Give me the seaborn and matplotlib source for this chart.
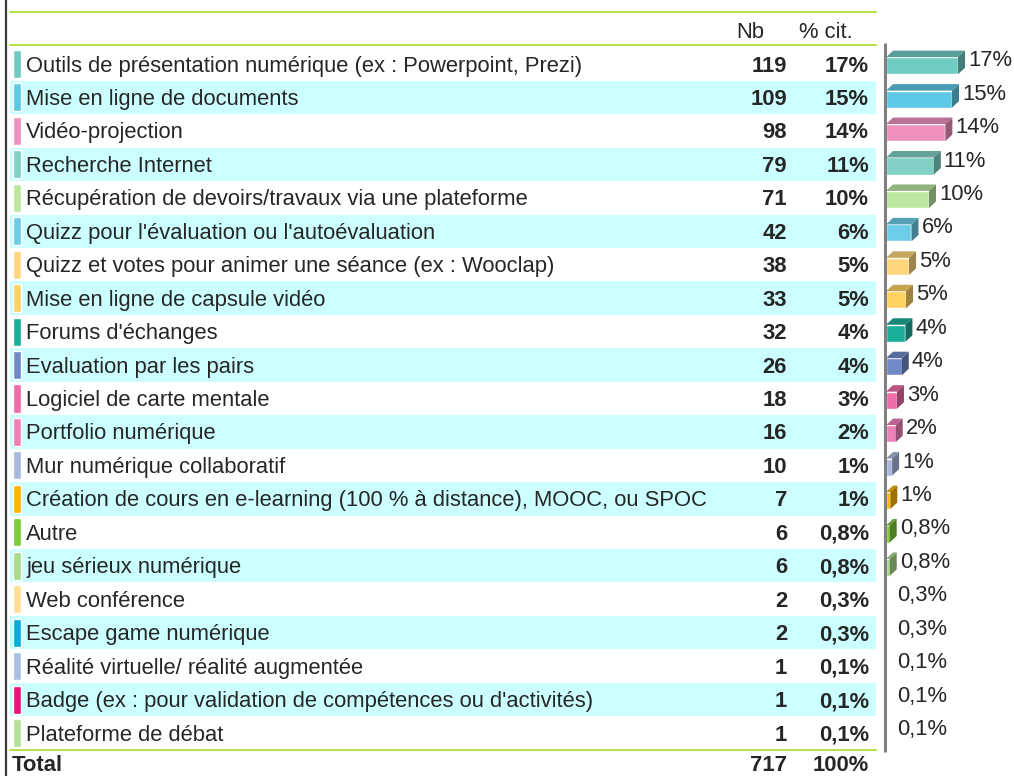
import matplotlib
matplotlib.use('Agg')
import matplotlib.pyplot as plt
import matplotlib.colors as mcolors
from matplotlib.patches import Polygon
import seaborn as sns

labels = [
    "Outils de présentation numérique (ex : Powerpoint, Prezi)",
    "Mise en ligne de documents",
    "Vidéo-projection",
    "Recherche Internet",
    "Récupération de devoirs/travaux via une plateforme",
    "Quizz pour l'évaluation ou l'autoévaluation",
    "Quizz et votes pour animer une séance (ex : Wooclap)",
    "Mise en ligne de capsule vidéo",
    "Forums d'échanges",
    "Evaluation par les pairs",
    "Logiciel de carte mentale",
    "Portfolio numérique",
    "Mur numérique collaboratif",
    "Création de cours en e-learning (100 % à distance), MOOC, ou SPOC",
    "Autre",
    "jeu sérieux numérique",
    "Web conférence",
    "Escape game numérique",
    "Réalité virtuelle/ réalité augmentée",
    "Badge (ex : pour validation de compétences ou d'activités)",
    "Plateforme de débat",
]
counts = [119, 109, 98, 79, 71, 42, 38, 33, 32, 26, 18, 16, 10, 7, 6, 6, 2, 2, 1, 1, 1]
pct_labels = ["17%", "15%", "14%", "11%", "10%", "6%", "5%", "5%", "4%", "4%", "3%",
              "2%", "1%", "1%", "0,8%", "0,8%", "0,3%", "0,3%", "0,1%", "0,1%", "0,1%"]
colors = ["#70CCC1", "#5CC9E6", "#F090BF", "#80D0C6", "#BDE6A1", "#6DCDE8", "#FFD67E",
          "#FFD163", "#1BAE98", "#7089C8", "#EE6CA8", "#F081B8", "#A9B9DD", "#FFB500",
          "#7DCB3B", "#A9DC89", "#FFDD92", "#00AEDC", "#ABBFE0", "#E8157C", "#B5E19B"]
total_count = 717
total_pct = "100%"

sns.set_style("white")
plt.rcParams['font.family'] = ['Liberation Sans', 'DejaVu Sans']

W, H = 1014, 776
row0, row_h = 64, 33.45          # centre de la 1re ligne et hauteur de ligne (px)
fs = 15.8
ty = 0.06                         # petit décalage vertical du texte (en lignes)
n = len(labels)
ylim = ((H - row0) / row_h, -row0 / row_h)

fig = plt.figure(figsize=(W / 100, H / 100), dpi=100)

# --- tableau ---
tax = fig.add_axes([0, 0, 1, 1])
tax.set_xlim(0, W)
tax.set_ylim(*ylim)
tax.axis('off')

for i in range(1, n, 2):
    tax.axhspan(i - 0.5, i + 0.5, xmin=10 / W, xmax=876 / W, color='#CCFFFF', lw=0, zorder=0)
tax.barh(range(n), 8, left=13, height=0.84, color=colors, zorder=1)

for i, (lab, c, p) in enumerate(zip(labels, counts, pct_labels)):
    tax.text(26, i + ty, lab, fontsize=fs, va='center')
    tax.text(787, i + ty, str(c), fontsize=fs, weight='bold', ha='right', va='center')
    tax.text(869, i + ty, p, fontsize=fs, weight='bold', ha='right', va='center')

tax.text(750, -1 + ty, "Nb", fontsize=fs, ha='center', va='center')
tax.text(826, -1 + ty, "% cit.", fontsize=fs, ha='center', va='center')
# ligne Total, collée au bas de l'image
yt = n - 0.04
tax.text(12, yt, "Total", fontsize=fs, weight='bold', va='center')
tax.text(787, yt, str(total_count), fontsize=fs, weight='bold', ha='right', va='center')
tax.text(869, yt, total_pct, fontsize=fs, weight='bold', ha='right', va='center')

for y in (-1.55, -0.57, n - 0.5):
    tax.plot([10, 876], [y, y], color='#B5E04A', lw=1.5)
tax.axvline(6, color='#3a3a3a', lw=1.6)

# --- barres 3D ---
px_per = 72 / 119
shift = 0.05
bax = fig.add_axes([880 / W, 0, 134 / W, 1])
sns.barplot(x=counts, y=labels, hue=labels, palette=colors, saturation=1,
            legend=False, orient='h', width=0.51, ax=bax)
bax.set_xlim(-10, 134 / px_per - 10)
bax.set_ylim(ylim[0] - shift, ylim[1] - shift)
bax.axis('off')
bax.patch.set_alpha(0)

dx = 7 / px_per
dy = 6.5 / row_h
for bar in list(bax.patches):
    x0, y0 = bar.get_x(), bar.get_y()
    w, h = bar.get_width(), abs(bar.get_height())
    if w * px_per < 3:
        continue
    top = min(y0, y0 + bar.get_height())
    base = mcolors.to_rgb(bar.get_facecolor())
    top_c = tuple(v * 0.78 for v in base)
    side_c = tuple(v * 0.62 for v in base)
    bax.add_patch(Polygon([(x0, top), (x0 + w, top), (x0 + w + dx, top - dy), (x0 + dx, top - dy)],
                          closed=True, color=top_c, lw=0))
    bax.add_patch(Polygon([(x0 + w, top), (x0 + w + dx, top - dy), (x0 + w + dx, top + h - dy), (x0 + w, top + h)],
                          closed=True, color=side_c, lw=0))

for i, (c, p) in enumerate(zip(counts, pct_labels)):
    bax.text(c + dx + 3 / px_per, i - 0.15, p, fontsize=fs, va='center')

bax.plot([-1 / px_per] * 2, [(43 - row0) / row_h - shift, (752 - row0) / row_h - shift],
         color='#808080', lw=2.2, solid_capstyle='butt')

fig.savefig('out.png', dpi=100)
